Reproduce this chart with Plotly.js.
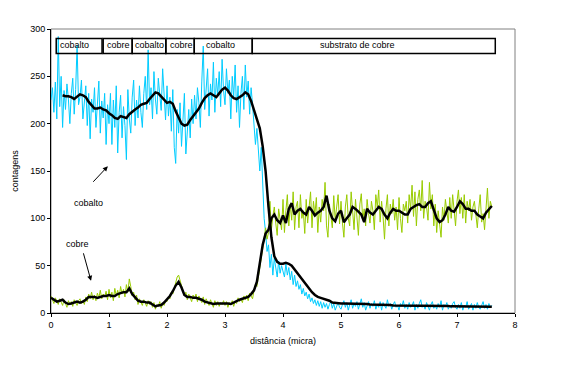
<!DOCTYPE html>
<html>
<head>
<meta charset="utf-8">
<script src="https://cdn.plot.ly/plotly-3.0.1.min.js"></script>
<style>html,body{margin:0;padding:0;background:#fff;}#chart{width:588px;height:366px;}</style>
</head>
<body>
<div id="chart"></div>
<script>
// Sampling (distance in micra)
var rawStep = 0.025;
var smoothStep = 0.05;
var rawStart = 0;
var smoothCoStart = 0.20;

// cobalto raw counts (cyan), x = 0 .. 7.6 step 0.025
var cobaltoRaw = [
  225,238,212,244,205,292,218,250,196,235,215,242,226,200,232,248,210,236,283,220,
  228,246,205,222,240,198,232,184,226,212,238,196,218,245,190,224,206,232,178,220,
  200,232,178,225,196,240,169,212,230,185,218,198,162,236,205,190,228,246,198,225,
  206,240,212,196,232,250,215,278,220,238,205,255,226,210,248,232,214,258,222,204,
  240,208,228,192,236,175,158,215,190,222,176,205,232,168,198,215,185,226,200,230,
  205,238,222,196,245,282,215,236,258,208,242,225,265,212,248,230,255,218,268,235,
  220,258,232,246,205,250,228,262,212,240,196,232,250,215,262,228,245,210,238,220,
  200,178,195,165,150,175,125,100,85,65,72,48,62,40,58,45,38,55,42,50,
  45,38,52,40,48,35,44,30,40,28,34,25,30,20,26,18,22,15,20,12,
  16,10,14,8,13,7,12,5,11,6,10,4,9,12,5,10,3,8,11,6,
  4,9,13,6,11,3,8,14,5,10,7,12,4,9,15,6,11,3,8,12,
  5,10,7,13,4,9,6,12,3,11,8,5,14,7,10,4,9,12,6,8,
  3,10,7,13,5,9,4,11,6,8,12,3,9,5,10,14,6,8,4,11,
  7,3,9,12,5,8,4,10,6,13,3,9,7,11,4,8,5,10,12,6,
  4,9,5,11,3,8,6,12,4,7,10,3,9,5,11,6,4,8,12,5,
  9,4,10,6,8
];

// cobre raw counts (green), x = 0 .. 7.6 step 0.025
var cobreRaw = [
  18,14,10,16,12,9,15,11,8,14,10,6,13,9,12,7,14,10,8,13,
  15,10,13,9,17,12,20,15,22,14,19,13,21,16,24,15,20,17,23,14,
  25,16,22,13,26,18,24,16,28,20,25,17,30,22,36,28,18,22,14,19,
  9,15,12,8,14,10,7,13,9,12,6,11,4,9,7,12,5,10,8,13,
  12,17,15,22,20,26,32,38,40,35,30,25,18,22,14,20,16,12,19,15,
  20,12,18,14,11,17,9,15,12,8,14,10,6,13,8,12,7,11,9,13,
  8,12,6,11,9,13,7,12,10,16,12,15,11,18,14,19,13,21,17,15,
  24,30,28,40,48,58,68,80,90,78,85,118,88,102,112,95,82,110,98,88,
  120,85,108,125,92,115,98,128,88,112,118,90,125,100,108,84,120,95,112,128,
  90,118,104,122,85,112,96,120,108,138,92,80,115,102,90,124,98,112,125,94,
  118,95,80,112,125,100,92,128,110,88,120,102,82,115,126,98,110,92,120,105,
  95,118,108,88,125,112,130,96,118,102,78,110,125,92,115,105,120,98,112,88,
  122,100,85,115,108,118,95,125,110,135,102,128,92,120,130,108,140,100,118,112,
  98,138,110,125,92,115,85,108,90,80,112,98,120,104,95,122,100,125,108,92,
  118,130,105,122,100,125,95,118,108,120,98,112,118,102,90,110,125,96,105,88,
  108,132,100,118,112
];

// cobalto smoothed (black), x = 0.20 .. 7.6 step 0.05
var cobaltoSmooth = [
  230,229,229,228,226,229,231,230,228,223,
  219,216,216,217,215,214,211,209,206,205,
  208,207,206,210,213,215,217,220,221,222,
  226,230,233,232,229,225,222,223,221,213,
  206,200,198,199,204,208,212,216,222,227,
  230,232,230,228,232,236,238,235,230,227,
  226,228,230,233,231,224,215,204,195,176,
  150,112,80,60,54,52,52,53,52,50,
  46,42,38,34,29,25,22,19,17,16,
  15,14,13,11,10.5,10,10,
  10,10,10,9.5,9.5,9.5,9.5,9.5,9.5,9,
  9,9,9,8.5,8.5,8.5,8.5,8,8,8,
  8,8,8,8,7.5,7.5,7.5,7.5,7.5,7.5,
  7.5,7.5,7.5,7.5,7.5,7.5,7.5,7,7,7,
  7,7,7,7,7,7,7,6.7,6.7,6.7,
  6.7,6.7
];

// cobre smoothed (black), x = 0 .. 7.6 step 0.05
var cobreSmooth = [
  16,14,12,13,14,11,9.5,10,11,12,
  11,12,14,17,17,17,16,17,18,18,
  19,18,18,20,21,22,22,26,20,16,
  13,12,12,11,11,9,7,8,8.5,11,
  14,18,23,29,33,27,19,17,17,16,
  16,15,14,12,11,10,9.5,10,10,10.5,
  10,10,9.5,11,13,14,15,16,17,20,
  24,33,52,72,84,88,100,104,98,95,
  103,95,110,116,104,108,110,106,104,112,
  108,103,106,108,112,124,108,100,97,105,
  108,96,100,104,112,110,107,104,96,110,
  106,104,108,112,110,104,100,106,110,108,
  108,106,104,104,110,112,114,115,112,112,
  116,118,108,100,96,98,104,112,108,107,
  112,118,115,110,110,108,108,104,102,100,
  106,110,113
];

// layer band labels along the top
var layerLabels = ['cobalto','cobre','cobalto','cobre','cobalto','substrato de cobre'];
var layerStart = [0.09, 0.90, 1.40, 1.98, 2.47, 3.47];
var layerEnd   = [0.88, 1.40, 1.98, 2.47, 3.47, 7.66];
var layerTextX = [0.12, 0.93, 1.42, 2.02, 2.64, 4.60];
var bandBottom = 274, bandTop = 290, bandTextY = 283;

var FONT = 'Liberation Sans, Arial, sans-serif';

var traces = [
  {y: cobaltoRaw, x0: rawStart, dx: rawStep, type: 'scatter', mode: 'lines',
   line: {color: '#00CCFF', width: 1}, hoverinfo: 'skip'},
  {y: cobreRaw, x0: rawStart, dx: rawStep, type: 'scatter', mode: 'lines',
   line: {color: '#99CC00', width: 1}, hoverinfo: 'skip'},
  {y: cobaltoSmooth, x0: smoothCoStart, dx: smoothStep, type: 'scatter', mode: 'lines',
   line: {color: '#000000', width: 2.5}, hoverinfo: 'skip'},
  {y: cobreSmooth, x0: rawStart, dx: smoothStep, type: 'scatter', mode: 'lines',
   line: {color: '#000000', width: 2.5}, hoverinfo: 'skip'}
];

var shapes = [
  {type: 'rect', xref: 'paper', yref: 'paper', x0: 0, x1: 1, y0: 0, y1: 1,
   line: {color: '#808080', width: 1}, layer: 'below'}
];
var annotations = [];
for (var i = 0; i < layerLabels.length; i++) {
  shapes.push({type: 'rect', xref: 'x', yref: 'y', x0: layerStart[i], x1: layerEnd[i],
    y0: bandBottom, y1: bandTop, line: {color: '#000', width: 1.5}, layer: 'above'});
  annotations.push({x: layerTextX[i], y: bandTextY, xref: 'x', yref: 'y', text: layerLabels[i],
    showarrow: false, xanchor: 'left', yanchor: 'middle', font: {family: FONT, size: 9, color: '#000'}});
}
annotations.push({x: 0.64, y: 116, xref: 'x', yref: 'y', text: 'cobalto', showarrow: false,
  font: {family: FONT, size: 9, color: '#000'}});
annotations.push({x: 0.45, y: 73, xref: 'x', yref: 'y', text: 'cobre', showarrow: false,
  font: {family: FONT, size: 9, color: '#000'}});
annotations.push({x: 0.98, y: 155, xref: 'x', yref: 'y', text: '', showarrow: true,
  ax: -16, ay: 17, arrowhead: 2, arrowsize: 1, arrowwidth: 1, arrowcolor: '#000'});
annotations.push({x: 0.69, y: 34, xref: 'x', yref: 'y', text: '', showarrow: true,
  ax: -8, ay: -29, arrowhead: 2, arrowsize: 1, arrowwidth: 1, arrowcolor: '#000'});

var layout = {
  width: 588, height: 366,
  margin: {l: 51, r: 73, t: 29, b: 53, pad: 0},
  paper_bgcolor: '#fff', plot_bgcolor: '#fff',
  showlegend: false,
  font: {family: FONT, size: 9, color: '#000'},
  xaxis: {range: [0, 8], dtick: 1, tick0: 0, showgrid: false, zeroline: false,
    showline: true, linecolor: '#000', linewidth: 1, ticks: 'outside', ticklen: 3,
    tickcolor: '#000', tickfont: {family: FONT, size: 9},
    title: {text: 'distância (micra)', font: {family: FONT, size: 9}, standoff: 8}},
  yaxis: {range: [0, 300], dtick: 50, tick0: 0, showgrid: false, zeroline: false,
    showline: true, linecolor: '#000', linewidth: 1, ticks: 'outside', ticklen: 3,
    tickcolor: '#000', tickfont: {family: FONT, size: 9},
    title: {text: 'contagens', font: {family: FONT, size: 9}, standoff: 10}},
  shapes: shapes,
  annotations: annotations
};

Plotly.newPlot('chart', traces, layout, {staticPlot: true, displayModeBar: false});
</script>
</body>
</html>
